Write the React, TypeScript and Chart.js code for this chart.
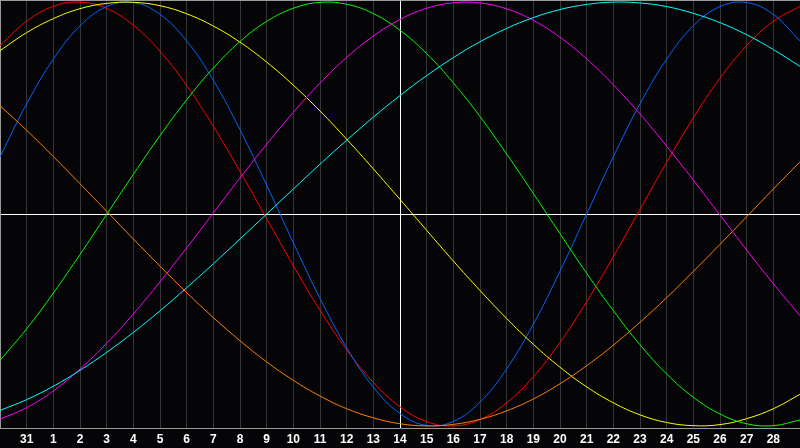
import React, { useEffect, useRef } from 'react';
import { Chart, registerables } from 'chart.js';

Chart.register(...registerables);

// day labels along the bottom (first and last sit on the frame edges, unlabelled)
const days = ['30', '31', '1', '2', '3', '4', '5', '6', '7', '8', '9', '10', '11', '12', '13', '14',
  '15', '16', '17', '18', '19', '20', '21', '22', '23', '24', '25', '26', '27', '28', '29'];

const red = [0.795, 0.910, 0.980, 1.000, 0.970, 0.891, 0.768, 0.606, 0.414, 0.201, -0.022, -0.244, -0.454, -0.641, -0.795, -0.910,
  -0.980, -1.000, -0.970, -0.891, -0.768, -0.606, -0.414, -0.201, 0.022, 0.244, 0.454, 0.641, 0.795, 0.910, 0.980];
const blue = [0.270, 0.520, 0.731, 0.888, 0.979, 0.998, 0.942, 0.817, 0.631, 0.398, 0.136, -0.136, -0.398, -0.631, -0.817, -0.942,
  -0.998, -0.979, -0.888, -0.731, -0.520, -0.270, 0.000, 0.270, 0.520, 0.731, 0.888, 0.979, 0.998, 0.942, 0.817];
const yellow = [0.771, 0.856, 0.922, 0.969, 0.994, 0.999, 0.983, 0.945, 0.887, 0.811, 0.717, 0.608, 0.486, 0.353, 0.213, 0.069,
  -0.077, -0.222, -0.361, -0.493, -0.615, -0.723, -0.816, -0.891, -0.948, -0.984, -0.999, -0.994, -0.966, -0.919, -0.851];
const green = [-0.691, -0.542, -0.373, -0.191, -0.002, 0.187, 0.370, 0.539, 0.689, 0.814, 0.909, 0.971, 0.999, 0.990, 0.946, 0.867,
  0.757, 0.619, 0.460, 0.283, 0.097, -0.093, -0.280, -0.456, -0.617, -0.755, -0.865, -0.944, -0.990, -0.999, -0.972];
const magenta = [-0.968, -0.914, -0.835, -0.732, -0.610, -0.472, -0.320, -0.160, 0.005, 0.170, 0.329, 0.480, 0.618, 0.739, 0.840, 0.918,
  0.971, 0.997, 0.996, 0.968, 0.914, 0.834, 0.732, 0.610, 0.472, 0.320, 0.160, -0.005, -0.170, -0.329, -0.480];
const cyan = [-0.927, -0.876, -0.813, -0.738, -0.653, -0.559, -0.457, -0.348, -0.235, -0.118, 0.000, 0.118, 0.235, 0.348, 0.457, 0.559,
  0.653, 0.738, 0.813, 0.876, 0.927, 0.965, 0.989, 1.000, 0.996, 0.979, 0.947, 0.903, 0.846, 0.776, 0.697];
const orange = [0.511, 0.395, 0.271, 0.143, 0.013, -0.118, -0.246, -0.371, -0.489, -0.598, -0.698, -0.785, -0.859, -0.919, -0.962, -0.990,
  -1.000, -0.993, -0.969, -0.929, -0.873, -0.801, -0.716, -0.619, -0.511, -0.395, -0.271, -0.143, -0.013, 0.118, 0.246];

const Y_LIM = 1.01;
const TODAY = 15;

const BiorhythmChart: React.FC = () => {
  const chartRef = useRef<HTMLCanvasElement | null>(null);
  const chartInstance = useRef<Chart | null>(null);

  useEffect(() => {
    if (!chartRef.current) return;
    if (chartInstance.current) chartInstance.current.destroy();

    const line = (data: number[], color: string) => ({
      data,
      borderColor: color,
      borderWidth: 1,
      pointRadius: 0,
      tension: 0.4,
      fill: false,
    });

    chartInstance.current = new Chart(chartRef.current, {
      type: 'line',
      data: {
        labels: days,
        datasets: [
          line(orange, '#ff8000'),
          line(cyan, '#00ffff'),
          line(magenta, '#ff00ff'),
          line(green, '#00ff00'),
          line(yellow, '#ffff00'),
          line(blue, '#0066ff'),
          line(red, '#ff0000'),
        ],
      },
      options: {
        animation: false,
        responsive: false,
        devicePixelRatio: 1,
        layout: { padding: 0 },
        plugins: {
          legend: { display: false },
          tooltip: { enabled: false },
        },
        scales: {
          x: {
            offset: false,
            afterFit: (scale: any) => {
              scale.height = 20;
              scale.paddingLeft = 0;
              scale.paddingRight = 0;
            },
            border: { color: '#9a9a9a', width: 1 },
            grid: {
              offset: false,
              drawTicks: false,
              lineWidth: 1,
              color: (ctx: any) =>
                ctx.index === TODAY ? '#ffffff' : (ctx.index === 0 || ctx.index === days.length - 1) ? 'rgba(0,0,0,0)' : '#363636',
            },
            ticks: {
              autoSkip: false,
              maxRotation: 0,
              padding: 4,
              color: '#ffffff',
              font: { family: 'Liberation Sans', size: 12, weight: 'bold' },
              callback: (_v: any, i: number) => (i === 0 || i === days.length - 1 ? '' : days[i]),
            },
          },
          y: {
            min: -Y_LIM,
            max: Y_LIM,
            afterFit: (scale: any) => {
              scale.width = 0;
              scale.paddingTop = 0;
              scale.paddingBottom = 0;
            },
            afterBuildTicks: (scale: any) => {
              scale.ticks = [{ value: -Y_LIM }, { value: 0 }, { value: Y_LIM }];
            },
            border: { color: '#9a9a9a', width: 1 },
            grid: {
              drawTicks: false,
              lineWidth: 1,
              color: (ctx: any) =>
                ctx.tick && ctx.tick.value === 0 ? '#ffffff' : ctx.tick && ctx.tick.value === Y_LIM ? '#9a9a9a' : 'rgba(0,0,0,0)',
            },
            ticks: { display: false },
          },
        },
      },
    });

    return () => {
      if (chartInstance.current) {
        chartInstance.current.destroy();
        chartInstance.current = null;
      }
    };
  }, []);

  return (
    <div style={{ position: 'fixed', left: 0, top: 0, width: 800, height: 448, background: '#050508' }}>
      <canvas ref={chartRef} width={800} height={448} style={{ display: 'block' }}></canvas>
    </div>
  );
};

export default function App() {
  return <BiorhythmChart />;
}
